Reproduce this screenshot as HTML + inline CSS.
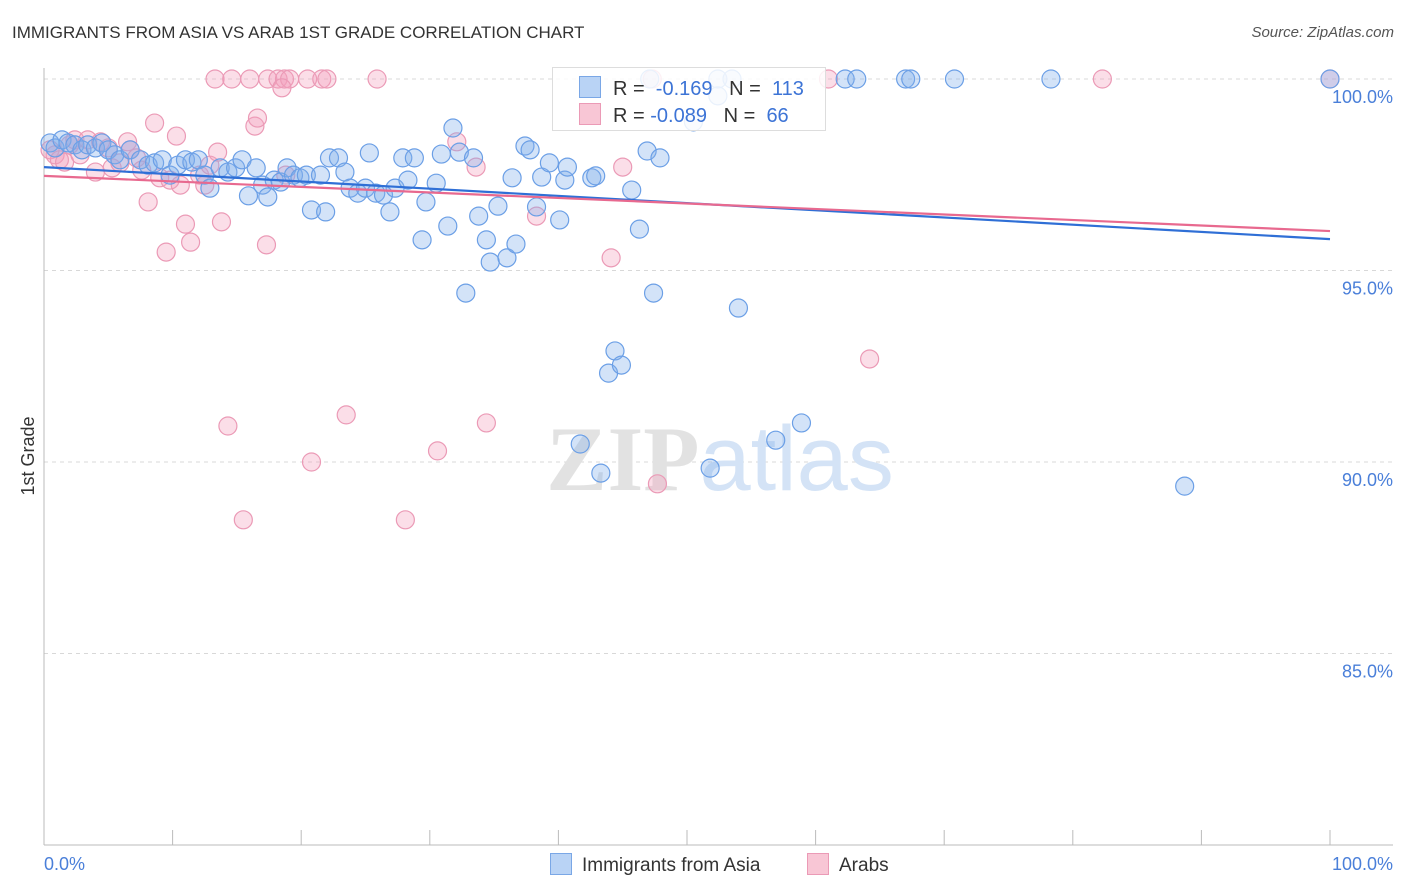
<!DOCTYPE html>
<html><head><meta charset="utf-8"><style>
body{margin:0;background:#fff;font-family:"Liberation Sans",sans-serif}
#wrap{position:relative;width:1406px;height:892px;overflow:hidden}
.t{position:absolute;white-space:nowrap}
</style></head><body>
<div id="wrap">
<div class="t" style="left:12px;top:23px;font-size:17px;color:#333">IMMIGRANTS FROM ASIA VS ARAB 1ST GRADE CORRELATION CHART</div>
<div class="t" style="right:12px;top:24px;font-size:15px;color:#555;font-style:italic">Source: ZipAtlas.com</div>
<svg id="chart" width="1406" height="892" style="position:absolute;left:0;top:0"></svg>
<div class="t" style="left:550px;top:853px;font-size:19px;color:#333"><span style="display:inline-block;width:20px;height:20px;background:#b9d3f5;border:1px solid #7aa7e6;vertical-align:-4px;margin-right:10px"></span>Immigrants from Asia</div>
<div class="t" style="left:807px;top:853px;font-size:19px;color:#333"><span style="display:inline-block;width:20px;height:20px;background:#f8c6d5;border:1px solid #eb9ab6;vertical-align:-4px;margin-right:10px"></span>Arabs</div>
<div style="position:absolute;left:552px;top:67px;width:272px;height:62px;border:1px solid #ddd;background:rgba(255,255,255,0.85);font-size:20px;color:#333">
 <div class="t" style="left:26px;top:8px"><span style="display:inline-block;width:20px;height:20px;background:#b9d3f5;border:1px solid #7aa7e6;vertical-align:-3px;margin-right:12px"></span>R = &nbsp;<span style="color:#3d74d6">-0.169</span>&nbsp;&nbsp;&nbsp;N = &nbsp;<span style="color:#3d74d6">113</span></div>
 <div class="t" style="left:26px;top:35px"><span style="display:inline-block;width:20px;height:20px;background:#f8c6d5;border:1px solid #eb9ab6;vertical-align:-3px;margin-right:12px"></span>R = <span style="color:#3d74d6">-0.089</span>&nbsp;&nbsp;&nbsp;N = &nbsp;<span style="color:#3d74d6">66</span></div>
</div>
</div>
<script>
const blueX=[52.4,53.5,47.1,62.3,63.2,67.0,67.4,70.8,78.3,100,52.4,50.5,0.47,0.86,1.4,1.87,2.4,2.95,3.4,4.0,4.5,5.0,5.5,5.9,6.7,7.5,8.1,8.6,9.2,9.8,10.4,11.0,11.5,12.0,12.5,12.9,13.7,14.3,14.9,15.4,15.9,16.5,17.0,17.4,17.9,18.4,18.9,19.4,19.9,20.4,20.8,21.5,21.9,22.2,22.9,23.4,23.8,24.4,25.0,25.3,25.8,26.4,26.9,27.3,27.9,28.3,28.8,29.4,29.7,30.5,30.9,31.4,31.8,32.3,32.8,33.4,33.8,34.4,34.7,35.3,36.0,36.4,36.7,37.4,37.8,38.3,38.7,39.3,40.1,40.5,40.7,41.7,42.6,42.9,43.3,43.9,44.4,44.9,45.7,46.3,46.9,47.4,47.9,51.8,54.0,56.9,58.9,88.7];
const blueY=[100,100,100,100,100,100,100,100,100,100,99.56,98.88,98.33,98.20,98.41,98.33,98.28,98.15,98.28,98.20,98.33,98.15,98.02,97.89,98.15,97.89,97.75,97.81,97.89,97.49,97.75,97.89,97.83,97.89,97.49,97.15,97.68,97.57,97.68,97.89,96.95,97.68,97.23,96.92,97.36,97.31,97.68,97.49,97.42,97.49,96.58,97.49,96.53,97.94,97.94,97.57,97.15,97.02,97.15,98.07,97.02,96.97,96.53,97.15,97.94,97.36,97.94,95.80,96.79,97.28,98.04,96.16,98.72,98.09,94.41,97.94,96.42,95.80,95.22,96.68,95.33,97.42,95.69,98.25,98.15,96.66,97.44,97.81,96.32,97.36,97.70,90.47,97.42,97.47,89.71,92.32,92.90,92.53,97.10,96.08,98.12,94.41,97.94,89.84,94.02,90.57,91.02,89.37];
const pinkX=[13.3,14.6,16.0,17.4,18.2,18.7,19.1,20.5,21.6,22.0,25.9,47.3,61.0,82.3,100,18.5,8.6,10.3,16.4,16.6,0.47,0.86,1.2,1.6,2.0,2.4,2.8,3.4,4.0,4.4,5.0,5.3,5.9,6.5,6.7,7.2,7.6,8.1,9.0,9.5,9.8,10.6,11.0,11.4,12.1,12.5,12.9,13.5,13.8,14.3,15.5,17.3,18.8,20.8,23.5,28.1,30.6,32.1,33.6,34.4,38.3,44.1,45.0,47.7,64.2];
const pinkY=[100,100,100,100,100,100,100,100,100,100,100,100,100,100,100,99.77,98.85,98.51,98.77,98.98,98.15,98.02,97.89,97.83,98.28,98.41,98.02,98.41,97.57,98.36,98.20,97.68,97.81,98.36,98.15,97.94,97.62,96.79,97.42,95.48,97.36,97.23,96.21,95.74,97.49,97.23,97.75,98.09,96.27,90.94,88.49,95.67,97.49,90.00,91.23,88.49,90.29,98.36,97.70,91.02,96.42,95.33,97.70,89.43,92.69];
const trendBlue=[97.70,95.82];
const trendPink=[97.47,96.03];
const yTicks=[100,95,90,85];
const yTickLabels=["100.0%","95.0%","90.0%","85.0%"];
const xTicks=[0,10,20,30,40,50,60,70,80,90,100];

const NS="http://www.w3.org/2000/svg";
const svg=document.getElementById('chart');
const X=v=>44+v*12.86;
const Y=v=>79+(100-v)*38.3;
function mk(tag,attrs,parent){const e=document.createElementNS(NS,tag);for(const k in attrs)e.setAttribute(k,attrs[k]);(parent||svg).appendChild(e);return e;}

yTicks.forEach((t,i)=>{
 const g=mk('line',{x1:44,x2:1393,y1:Y(t),y2:Y(t),stroke:'#d8d8d8','stroke-dasharray':'4,4'});
 
 
 const l=mk('text',{x:1393,y:Y(t)+24,'text-anchor':'end','font-size':18,fill:'#4a7fd9','font-family':'Liberation Sans, sans-serif'});
 l.textContent=yTickLabels[i];
 
 
});
const ax=mk('line',{x1:44,x2:44,y1:68,y2:845,stroke:'#bbb'});


const bx=mk('line',{x1:44,x2:1393,y1:845,y2:845,stroke:'#bbb'});


xTicks.forEach(t=>{
 const k=mk('line',{x1:X(t),x2:X(t),y1:830,y2:845,stroke:'#bbb'});
 
 
});
const xl0=mk('text',{x:44,y:870,'font-size':18,fill:'#4a7fd9','font-family':'Liberation Sans, sans-serif'});
xl0.textContent='0.0%';


const xl1=mk('text',{x:1393,y:870,'text-anchor':'end','font-size':18,fill:'#4a7fd9','font-family':'Liberation Sans, sans-serif'});
xl1.textContent='100.0%';


const yt=mk('text',{x:34,y:456,'text-anchor':'middle','font-size':18,fill:'#333',transform:'rotate(-90 34 456)','font-family':'Liberation Sans, sans-serif'});
yt.textContent='1st Grade';


const wm=mk('text',{x:720,y:490,'text-anchor':'middle','font-size':92,'font-family':'Liberation Serif, serif'});
wm.innerHTML='<tspan fill="#e2e2e2" font-weight="bold">ZIP</tspan><tspan fill="#d4e3f6" font-family="Liberation Sans, sans-serif">atlas</tspan>';



function dots(xs,ys,fill,stroke,name){
 xs.forEach((x,i)=>{
  const c=mk('circle',{cx:X(x),cy:Y(ys[i]),r:9,fill:fill,stroke:stroke,'stroke-width':1.2});
  
  
 });
}
dots(pinkX,pinkY,'rgba(244,160,190,0.35)','#eb9ab6','arab-point');
dots(blueX,blueY,'rgba(130,175,235,0.35)','#6b9fe6','asia-point');
const tb=mk('line',{x1:X(0),y1:Y(trendBlue[0]),x2:X(100),y2:Y(trendBlue[1]),stroke:'#2f6fd6','stroke-width':2.2});


const tp=mk('line',{x1:X(0),y1:Y(trendPink[0]),x2:X(100),y2:Y(trendPink[1]),stroke:'#e8698f','stroke-width':2.2});


</script>
</body></html>
